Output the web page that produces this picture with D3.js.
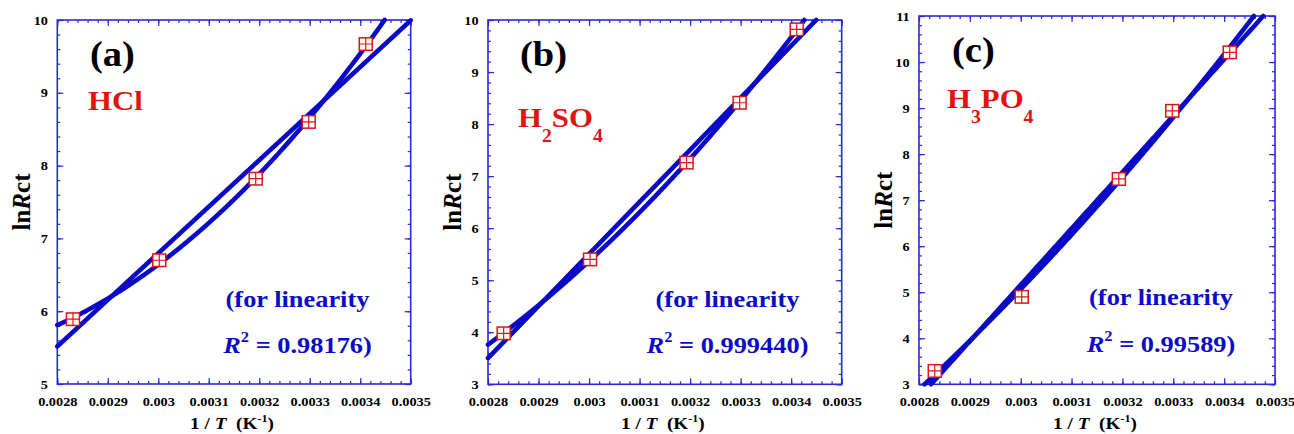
<!DOCTYPE html>
<html>
<head>
<meta charset="utf-8">
<script src="https://cdn.jsdelivr.net/npm/d3@7"></script>
<style>
  body { margin: 0; background: #fff; }
  svg text { font-family: "Liberation Serif", "Times New Roman", serif; font-weight: bold; }
</style>
</head>
<body>
<svg id="chart" width="1294" height="434"></svg>
<script>
// Arrhenius-type plots of ln Rct vs 1/T in three acids
const xTicks = [0.0028, 0.0029, 0.003, 0.0031, 0.0032, 0.0033, 0.0034, 0.0035];
const yTicksHCl = [5, 6, 7, 8, 9, 10];
const yTicksH2SO4 = [3, 4, 5, 6, 7, 8, 9, 10];
const yTicksH3PO4 = [3, 4, 5, 6, 7, 8, 9, 10, 11];

// 1/T (K^-1) for the five measuring temperatures
const invT = [0.002831, 0.003002, 0.003193, 0.003298, 0.003411];
// ln Rct measured in each electrolyte
const lnRctHCl = [5.89, 6.70, 7.82, 8.60, 9.67];
const lnRctH2SO4 = [3.98, 5.40, 7.26, 8.41, 9.82];
const lnRctH3PO4 = [3.29, 4.90, 7.46, 8.94, 10.21];

const panelTags = ["(a)", "(b)", "(c)"];
const r2Values = ["0.98176", "0.999440", "0.99589"];
// acid names as [text, subscript?] pieces
const acidNames = [
  [["HCl", false]],
  [["H", false], ["2", true], ["SO", false], ["4", true]],
  [["H", false], ["3", true], ["PO", false], ["4", true]]
];

const panels = [
  { left: 57.3, right: 410.7, top: 20, bottom: 384, yTicks: yTicksHCl, values: lnRctHCl,
    tagPos: [90, 65.5], acidPos: [88, 110], notePos: [297.5, 307, 352.7] },
  { left: 488, right: 841.7, top: 20, bottom: 384.3, yTicks: yTicksH2SO4, values: lnRctH2SO4,
    tagPos: [520, 65.5], acidPos: [518, 126.7], notePos: [727.5, 307, 352.7] },
  { left: 919, right: 1275, top: 16, bottom: 384.3, yTicks: yTicksH3PO4, values: lnRctH3PO4,
    tagPos: [952, 61.5], acidPos: [947, 108.3], notePos: [1161, 305, 351.7] }
];

const FRAME = "#2a2ad8", LINE = "#0a0ac6", RED = "#e01414", NOTE = "#0c0cc8";
const SX = 1.1; // glyphs in this figure run slightly wide

const svg = d3.select("#chart");

// least-squares polynomial in u = (x - 0.00315) * 1e4
function polyfit(xs, ys, deg) {
  const n = deg + 1;
  const A = d3.range(n).map(() => new Array(n + 1).fill(0));
  xs.forEach((xv, k) => {
    const u = (xv - 0.00315) * 1e4;
    for (let r = 0; r < n; r++) {
      for (let c = 0; c < n; c++) A[r][c] += Math.pow(u, r + c);
      A[r][n] += ys[k] * Math.pow(u, r);
    }
  });
  for (let i = 0; i < n; i++) {
    let piv = i;
    for (let r = i + 1; r < n; r++) if (Math.abs(A[r][i]) > Math.abs(A[piv][i])) piv = r;
    [A[i], A[piv]] = [A[piv], A[i]];
    for (let r = 0; r < n; r++) {
      if (r === i) continue;
      const f = A[r][i] / A[i][i];
      for (let c = i; c <= n; c++) A[r][c] -= f * A[i][c];
    }
  }
  const coef = d3.range(n).map(i => A[i][n] / A[i][i]);
  return xv => {
    const u = (xv - 0.00315) * 1e4;
    return coef.reduce((s, c, i) => s + c * Math.pow(u, i), 0);
  };
}

// sample a fitted function and keep only the part inside the frame
function fitPath(f, x, y) {
  const [y0, y1] = y.domain();
  const [xa, xb] = x.domain();
  const pts = d3.range(0, 801).map(i => { const xv = xa + (xb - xa) * i / 800; return [xv, f(xv)]; });
  const out = [];
  for (let i = 0; i < pts.length; i++) {
    const [xv, yv] = pts[i];
    const inside = yv >= y0 && yv <= y1;
    if (i > 0) {
      const [xp, yp] = pts[i - 1];
      const prevIn = yp >= y0 && yp <= y1;
      if (inside !== prevIn) {
        const bound = (inside ? yp : yv) > y1 ? y1 : y0;
        const t = (bound - yp) / (yv - yp);
        out.push([xp + t * (xv - xp), bound]);
      }
    }
    if (inside) out.push([xv, yv]);
  }
  return d3.line().x(d => x(d[0])).y(d => y(d[1]))(out);
}

function styleAxis(sel) {
  sel.select(".domain").remove();
  sel.selectAll("line").attr("stroke", FRAME).attr("stroke-width", 1.2);
}

panels.forEach((p, i) => {
  const x = d3.scaleLinear().domain([0.0028, 0.0035]).range([p.left, p.right]);
  const yDom = d3.extent(p.yTicks);
  const y = d3.scaleLinear().domain(yDom).range([p.bottom, p.top]);
  const g = svg.append("g");

  const minorX = x.ticks(35);
  const minorY = y.ticks((yDom[1] - yDom[0]) * 5);

  // minor ticks, pointing inward on every side
  g.append("g").attr("transform", `translate(0,${p.bottom})`)
    .call(d3.axisBottom(x).tickValues(minorX).tickSize(-3).tickSizeOuter(0).tickFormat("")).call(styleAxis);
  g.append("g").attr("transform", `translate(0,${p.top})`)
    .call(d3.axisTop(x).tickValues(minorX).tickSize(-3).tickSizeOuter(0).tickFormat("")).call(styleAxis);
  g.append("g").attr("transform", `translate(${p.left},0)`)
    .call(d3.axisLeft(y).tickValues(minorY).tickSize(-3).tickSizeOuter(0).tickFormat("")).call(styleAxis);
  g.append("g").attr("transform", `translate(${p.right},0)`)
    .call(d3.axisRight(y).tickValues(minorY).tickSize(-3).tickSizeOuter(0).tickFormat("")).call(styleAxis);

  // major ticks with labels
  const xb = g.append("g").attr("transform", `translate(0,${p.bottom})`)
    .call(d3.axisBottom(x).tickValues(xTicks).tickSize(-6).tickSizeOuter(0).tickPadding(12.5)
      .tickFormat(d => String(+d.toFixed(4))))
    .call(styleAxis);
  xb.selectAll("text").attr("transform", `scale(${SX},1)`)
    .style("font-size", "13px").attr("fill", "#000");
  xb.attr("font-family", null).attr("font-size", null);

  const yl = g.append("g").attr("transform", `translate(${p.left},0)`)
    .call(d3.axisLeft(y).tickValues(p.yTicks).tickSize(-6).tickSizeOuter(0).tickPadding(8.5)
      .tickFormat(d3.format("d")))
    .call(styleAxis);
  yl.selectAll("text").attr("transform", `scale(${SX},1)`)
    .style("font-size", "13px").attr("fill", "#000");
  yl.attr("font-family", null).attr("font-size", null);

  g.append("g").attr("transform", `translate(0,${p.top})`)
    .call(d3.axisTop(x).tickValues(xTicks).tickSize(-6).tickSizeOuter(0).tickFormat("")).call(styleAxis);
  g.append("g").attr("transform", `translate(${p.right},0)`)
    .call(d3.axisRight(y).tickValues(p.yTicks).tickSize(-6).tickSizeOuter(0).tickFormat("")).call(styleAxis);

  // frame
  g.append("rect")
    .attr("x", p.left).attr("y", p.top)
    .attr("width", p.right - p.left).attr("height", p.bottom - p.top)
    .attr("fill", "none").attr("stroke", FRAME).attr("stroke-width", 1.6);

  // linear fit and second-order fit
  [1, 2].forEach(deg => {
    g.append("path")
      .attr("d", fitPath(polyfit(invT, p.values, deg), x, y))
      .attr("fill", "none").attr("stroke", LINE)
      .attr("stroke-width", 4.6).attr("stroke-linecap", "round");
  });

  // data markers: open square with a cross
  const pts = g.selectAll(".pt").data(invT.map((t, k) => [t, p.values[k]]))
    .enter().append("g").attr("class", "pt")
    .attr("transform", d => `translate(${x(d[0])},${y(d[1])})`);
  pts.append("rect").attr("x", -6.5).attr("y", -6.25).attr("width", 13).attr("height", 12.5)
    .attr("fill", "#fff").attr("stroke", RED).attr("stroke-width", 1.5);
  pts.append("path").attr("d", "M-6.5,0H6.5M0,-6.25V6.25")
    .attr("stroke", RED).attr("stroke-width", 1.2);

  // axis titles
  const xt = g.append("text")
    .attr("transform", `translate(${(p.left + p.right) / 2 - 2},429) scale(${SX},1)`)
    .attr("text-anchor", "middle").style("font-size", "17.5px").style("white-space", "pre");
  xt.append("tspan").text("1 / ");
  xt.append("tspan").style("font-style", "italic").text("T");
  xt.append("tspan").text("  (K");
  xt.append("tspan").attr("dy", -7).style("font-size", "11px").text("-1");
  xt.append("tspan").attr("dy", 7).text(")");

  const yt = g.append("text")
    .attr("transform", `translate(${p.left - 27.3},${(p.top + p.bottom) / 2}) rotate(-90)`)
    .attr("text-anchor", "middle").style("font-size", "25px");
  yt.append("tspan").text("ln");
  yt.append("tspan").style("font-style", "italic").text("R");
  yt.append("tspan").text("ct");

  // panel tag
  g.append("text")
    .attr("transform", `translate(${p.tagPos[0]},${p.tagPos[1]}) scale(${SX},1)`)
    .style("font-size", "35px").attr("fill", "#000").text(panelTags[i]);

  // electrolyte name
  const acid = g.append("text")
    .attr("transform", `translate(${p.acidPos[0]},${p.acidPos[1]}) scale(${SX},1)`)
    .style("font-size", "28px").attr("fill", RED);
  let lowered = false;
  acidNames[i].forEach(([txt, sub]) => {
    const ts = acid.append("tspan").text(txt);
    if (sub && !lowered) { ts.attr("dy", 15).style("font-size", "18px"); lowered = true; }
    else if (sub) ts.style("font-size", "18px");
    else if (lowered) { ts.attr("dy", -15); lowered = false; }
  });

  // linearity note
  g.append("text")
    .attr("transform", `translate(${p.notePos[0]},${p.notePos[1]}) scale(${SX},1)`)
    .attr("text-anchor", "middle").style("font-size", "24px").attr("fill", NOTE)
    .text("(for linearity");
  const r2 = g.append("text")
    .attr("transform", `translate(${p.notePos[0]},${p.notePos[2]}) scale(${SX},1)`)
    .attr("text-anchor", "middle").style("font-size", "24px").attr("fill", NOTE)
    .style("white-space", "pre");
  r2.append("tspan").style("font-style", "italic").text("R");
  r2.append("tspan").attr("dy", -11).style("font-size", "15px").text("2");
  r2.append("tspan").attr("dy", 11).text(" = " + r2Values[i] + ")");
});
</script>
</body>
</html>
